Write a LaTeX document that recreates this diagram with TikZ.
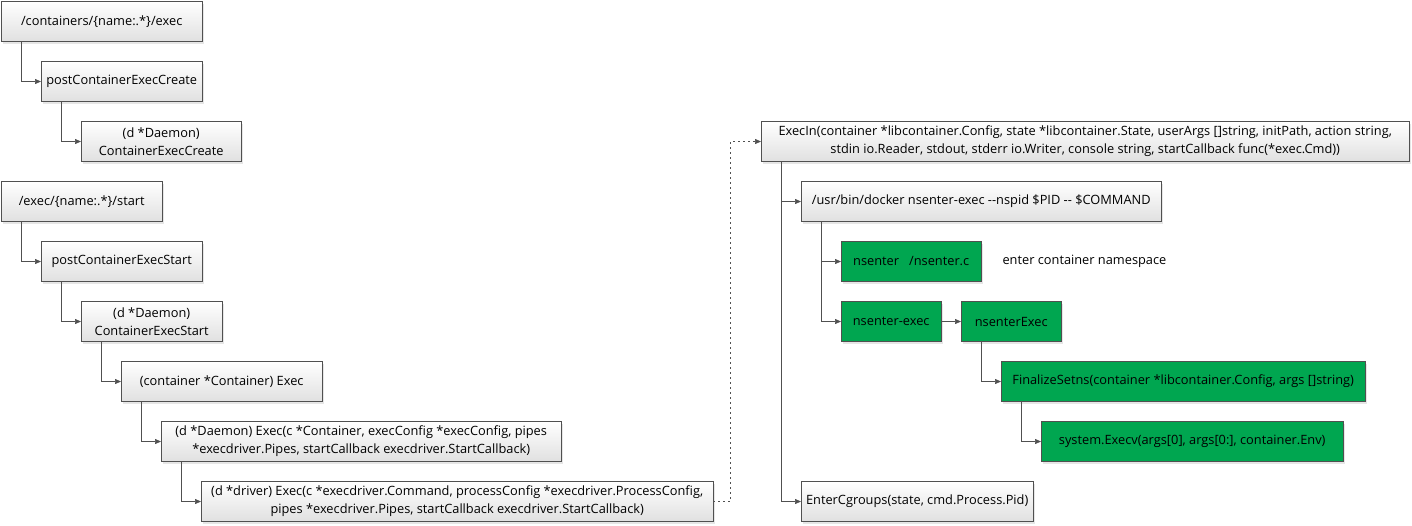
\documentclass[tikz,border=0pt]{standalone}
\usepackage{fontspec}
\setmainfont{Open Sans}
\usetikzlibrary{arrows.meta,shadows}
\definecolor{vert}{RGB}{0,166,80}
\definecolor{trait}{RGB}{80,80,80}
\begin{document}
\begin{tikzpicture}[x=1pt,y=-1pt,font=\fontsize{12.8}{18}\selectfont]
	% Styles
	\tikzstyle{fleche}=[-{Triangle[length=6pt,width=5pt]},trait,semithick]
	\tikzstyle{pointille}=[fleche,dash pattern=on 2pt off 3pt]
	\tikzstyle{ombre}=[drop shadow={opacity=0.2,shadow xshift=2pt,shadow yshift=-2pt}]
	\tikzstyle{boite}=[draw=trait,ombre,anchor=west,minimum height=40pt,align=center,inner sep=2pt,top color=white,bottom color=black!12]
	\tikzstyle{boiteverte}=[draw=trait,ombre,anchor=west,minimum height=40pt,align=center,inner sep=2pt,fill=vert]
	\tikzstyle{commentaire}=[anchor=west]
	% Dimensions
	\def\Ligne{60}
	\def\Retrait{40}
	\def\Haut{21.5}
	\def\Droite{761}
	\useasboundingbox (0,0) rectangle (1412,525);
	% Arbre de gauche
	\node[boite,minimum width=201pt] (routeA) at ({(0)*\Retrait+1},{(0)*\Ligne+\Haut}) {/containers/\{name:.*\}/exec};
	\node[boite,minimum width=161pt] (postA) at ({(1)*\Retrait+1},{(1)*\Ligne+\Haut}) {postContainerExecCreate};
	\node[boite,minimum width=160pt] (daemonA) at ({(2)*\Retrait+1},{(2)*\Ligne+\Haut}) {(d *Daemon)\\ContainerExecCreate};
	\node[boite,minimum width=161pt] (routeB) at ({(0)*\Retrait+1},{(3)*\Ligne+\Haut}) {/exec/\{name:.*\}/start};
	\node[boite,minimum width=161pt] (postB) at ({(1)*\Retrait+1},{(4)*\Ligne+\Haut}) {postContainerExecStart};
	\node[boite,minimum width=141pt] (daemonB) at ({(2)*\Retrait+1},{(5)*\Ligne+\Haut}) {(d *Daemon)\\ContainerExecStart};
	\node[boite,minimum width=201pt] (conteneur) at ({(3)*\Retrait+1},{(6)*\Ligne+\Haut}) {(container *Container) Exec};
	\node[boite,minimum width=400pt] (daemonExec) at ({(4)*\Retrait+1},{(7)*\Ligne+\Haut}) {(d *Daemon) Exec(c *Container, execConfig *execConfig, pipes\\*execdriver.Pipes, startCallback execdriver.StartCallback)};
	\node[boite,minimum width=512pt] (driverExec) at ({(5)*\Retrait+1},{(8)*\Ligne+\Haut}) {(d *driver) Exec(c *execdriver.Command, processConfig *execdriver.ProcessConfig,\\pipes *execdriver.Pipes, startCallback execdriver.StartCallback)};
	% Arbre de droite
	\node[boite,minimum width=648pt] (execIn) at ({\Droite+(0)*\Retrait},{(2)*\Ligne+\Haut}) {ExecIn(container *libcontainer.Config, state *libcontainer.State, userArgs []string, initPath, action string,\\stdin io.Reader, stdout, stderr io.Writer, console string, startCallback func(*exec.Cmd))};
	\node[boite,minimum width=360pt] (commande) at ({\Droite+(1)*\Retrait},{(3)*\Ligne+\Haut}) {/usr/bin/docker nsenter-exec -{}-nspid \$PID -{}- \$COMMAND};
	\node[boiteverte,minimum width=140pt] (nsenter) at ({\Droite+(2)*\Retrait},{(4)*\Ligne+\Haut}) {nsenter\ \ \ /nsenter.c};
	\node[commentaire] (note) at ({\Droite+238},{(4)*\Ligne+\Haut}) {enter container namespace};
	\node[boiteverte,minimum width=100pt] (nsenterCmd) at ({\Droite+(2)*\Retrait},{(5)*\Ligne+\Haut}) {nsenter-exec};
	\node[boiteverte,minimum width=100pt] (nsenterExec) at ({\Droite+(5)*\Retrait},{(5)*\Ligne+\Haut}) {nsenterExec};
	\node[boiteverte,minimum width=364pt] (finalize) at ({\Droite+(6)*\Retrait},{(6)*\Ligne+\Haut}) {FinalizeSetns(container *libcontainer.Config, args []string)};
	\node[boiteverte,minimum width=302pt] (execv) at ({\Droite+(7)*\Retrait},{(7)*\Ligne+\Haut}) {system.Execv(args[0], args[0:], container.Env)};
	\node[boite,minimum width=232pt] (cgroups) at ({\Droite+(1)*\Retrait},{(8)*\Ligne+\Haut}) {EnterCgroups(state, cmd.Process.Pid)};
	% Arcs
	\draw[fleche] ([xshift=20pt]routeA.south west) |- (postA.west);
	\draw[fleche] ([xshift=20pt]postA.south west) |- (daemonA.west);
	\draw[fleche] ([xshift=20pt]routeB.south west) |- (postB.west);
	\draw[fleche] ([xshift=20pt]postB.south west) |- (daemonB.west);
	\draw[fleche] ([xshift=20pt]daemonB.south west) |- (conteneur.west);
	\draw[fleche] ([xshift=20pt]conteneur.south west) |- (daemonExec.west);
	\draw[fleche] ([xshift=20pt]daemonExec.south west) |- (driverExec.west);
	\draw[pointille] (driverExec.east) -- ++(17,0) |- (execIn.west);
	\draw[fleche] ([xshift=20pt]execIn.south west) |- (commande.west);
	\draw[fleche] ([xshift=20pt]execIn.south west) |- (cgroups.west);
	\draw[fleche] ([xshift=20pt]commande.south west) |- (nsenter.west);
	\draw[fleche] ([xshift=20pt]commande.south west) |- (nsenterCmd.west);
	\draw[fleche] (nsenterCmd.east) -- (nsenterExec.west);
	\draw[fleche] ([xshift=20pt]nsenterExec.south west) |- (finalize.west);
	\draw[fleche] ([xshift=20pt]finalize.south west) |- (execv.west);
\end{tikzpicture}
\end{document}
